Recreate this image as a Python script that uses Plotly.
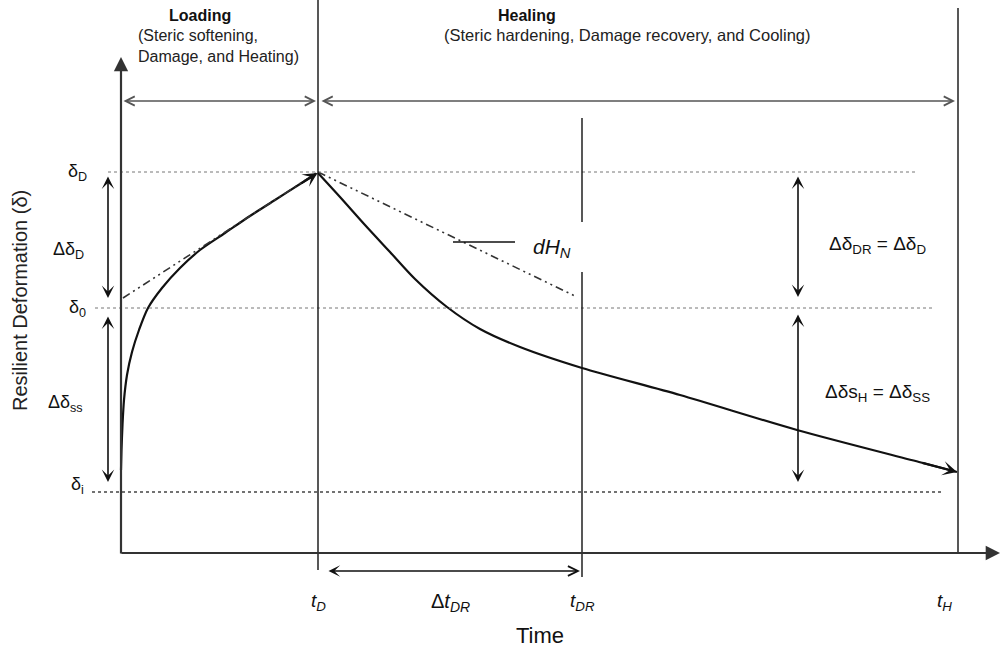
import plotly.graph_objects as go

# ---------------- data (schematic units) ----------------
time_marks = [1.97, 4.61, 8.37]          # t_D, t_DR, t_H
time_labels = ["<i>t<sub>D</sub></i>", "<i>t<sub>DR</sub></i>", "<i>t<sub>H</sub></i>"]
delta_levels = [0.61, 2.45, 3.81]        # delta_i, delta_0, delta_D
delta_labels = ["δ<sub>i</sub>", "δ<sub>0</sub>", "δ<sub>D</sub>"]

loading_t = [0.00, 0.005, 0.015, 0.03, 0.06, 0.11, 0.18, 0.27, 0.41, 0.59, 0.79,
             1.04, 1.29, 1.54, 1.79, 1.95]
loading_d = [0.83, 1.03, 1.28, 1.53, 1.78, 2.01, 2.23, 2.45, 2.65, 2.85, 3.03,
             3.20, 3.37, 3.53, 3.69, 3.79]

healing_t = [1.97, 2.19, 2.44, 2.69, 2.94, 3.26, 3.59, 3.99, 4.61, 5.59, 6.76, 8.0, 8.36]
healing_d = [3.80, 3.56, 3.28, 3.01, 2.74, 2.46, 2.24, 2.06, 1.85, 1.58, 1.23, 0.905, 0.81]

tangent_load_t = [0.02, 1.97]
tangent_load_d = [2.55, 3.81]
tangent_heal_t = [1.97, 4.56]
tangent_heal_d = [3.81, 2.56]

FONT = "Liberation Sans, Arial, sans-serif"
INK = "#111111"
GREY = "#555555"

fig = go.Figure()

# curves
fig.add_trace(go.Scatter(x=loading_t, y=loading_d, mode="lines",
                         line=dict(color=INK, width=2.2, shape="spline", smoothing=0.8),
                         showlegend=False, hoverinfo="skip"))
fig.add_trace(go.Scatter(x=healing_t, y=healing_d, mode="lines",
                         line=dict(color=INK, width=2.2, shape="spline", smoothing=0.8),
                         showlegend=False, hoverinfo="skip"))
fig.add_trace(go.Scatter(x=tangent_load_t, y=tangent_load_d, mode="lines",
                         line=dict(color="#333333", width=1.6, dash="8px,4px,2px,4px,2px,4px"),
                         showlegend=False, hoverinfo="skip"))
fig.add_trace(go.Scatter(x=tangent_heal_t, y=tangent_heal_d, mode="lines",
                         line=dict(color="#333333", width=1.6, dash="8px,4px,2px,4px,2px,4px"),
                         showlegend=False, hoverinfo="skip"))

shapes = []
# horizontal dotted reference levels
dot_extent = [(-0.29, 8.21), (-0.26, 8.11), (-0.13, 7.94)]
for lvl, (x0, x1) in zip(delta_levels, dot_extent):
    shapes.append(dict(type="line", x0=x0, x1=x1, y0=lvl, y1=lvl,
                       line=dict(color="#444444" if lvl == delta_levels[0] else "#777777",
                                 width=1.3 if lvl == delta_levels[0] else 1, dash="dot")))
# vertical time marks
tD, tDR, tH = time_marks
shapes.append(dict(type="line", x0=tD, x1=tD, y0=-0.17, y1=5.53, line=dict(color=INK, width=1.4)))
shapes.append(dict(type="line", x0=tDR, x1=tDR, y0=3.31, y1=4.35, line=dict(color=INK, width=1.4)))
shapes.append(dict(type="line", x0=tDR, x1=tDR, y0=-0.24, y1=2.81, line=dict(color=INK, width=1.4)))
shapes.append(dict(type="line", x0=tH, x1=tH, y0=0, y1=5.45, line=dict(color=INK, width=1.4)))
# dH_N leader
shapes.append(dict(type="line", x0=3.32, x1=3.94, y0=3.11, y1=3.11, line=dict(color=INK, width=1.3)))

anns = []

def arrow(x0, y0, x1, y1, head=3, start=None, size=1.0, width=1.4, color=INK):
    d = dict(x=x1, y=y1, ax=x0, ay=y0, xref="x", yref="y", axref="x", ayref="y",
             text="", showarrow=True, arrowhead=head, arrowsize=size,
             arrowwidth=width, arrowcolor=color)
    if start is not None:
        d["arrowside"] = "end+start"
        d["startarrowhead"] = start
        d["startarrowsize"] = size
    anns.append(d)

# axes
arrow(0, -0.02, 0, 4.96, head=2, size=1.3, width=2.2, color="#333333")
arrow(-0.01, 0, 8.79, 0, head=2, size=1.3, width=2.2, color="#333333")

# top span arrows
arrow(0.01, 4.52, 1.95, 4.52, head=5, start=5, size=1.4, width=1.3, color=GREY)
arrow(1.99, 4.52, 8.34, 4.52, head=5, start=5, size=1.4, width=1.3, color=GREY)

# left vertical double arrows
arrow(-0.13, 3.78, -0.13, 2.55, head=3, start=3, size=1.3, width=1.6)
arrow(-0.13, 2.38, -0.13, 0.71, head=3, start=3, size=1.3, width=1.6)
# right vertical double arrows
arrow(6.77, 3.78, 6.77, 2.56, head=3, start=3, size=1.3, width=1.6)
arrow(6.77, 2.40, 6.77, 0.71, head=3, start=3, size=1.3, width=1.6)
# bottom delta t arrow
arrow(2.06, -0.18, 4.59, -0.18, head=5, start=3, size=1.3, width=1.5)

# curve arrowheads
arrow(loading_t[-2], loading_d[-2], 1.965, 3.80, head=3, size=1.1, width=2.2)
arrow(healing_t[-2], healing_d[-2], healing_t[-1], healing_d[-1], head=3, size=1.1, width=2.2)

def text(x, y, s, size=15, xanchor="center", bold=False, align="center", color=INK):
    anns.append(dict(x=x, y=y, xref="x", yref="y", text=("<b>%s</b>" % s) if bold else s,
                     showarrow=False, xanchor=xanchor, yanchor="middle", align=align,
                     font=dict(family=FONT, size=size, color=color)))

# headers
text(0.79, 5.38, "Loading", size=16, bold=True)
text(0.15, 5.07, "(Steric softening,<br>Damage, and Heating)", size=16, xanchor="left", align="left",
     color="#222222")
text(4.06, 5.38, "Healing", size=16, bold=True)
text(5.06, 5.18, "(Steric hardening, Damage recovery, and Cooling)", size=16.5, color="#222222")

# delta labels
for lvl, lab in zip(delta_levels, delta_labels):
    text(-0.44, lvl + (0.07 if lab == delta_labels[0] else 0), lab, size=18)
text(-0.53, 3.03, "Δδ<sub>D</sub>", size=18)
text(-0.56, 1.50, "Δδ<sub>ss</sub>", size=18)
text(7.56, 3.08, "Δδ<sub>DR</sub> = Δδ<sub>D</sub>", size=19)
text(7.56, 1.60, "Δδs<sub>H</sub> = Δδ<sub>SS</sub>", size=19)

# time labels
for tm, lab in zip(time_marks, time_labels):
    text(tm - (0.14 if lab == time_labels[2] else 0), -0.49, lab, size=19)
text(3.29, -0.49, "Δ<i>t<sub>DR</sub></i>", size=20)
text(4.31, 3.05, "<i>dH<sub>N</sub></i>", size=21)

# axis titles
text(4.19, -0.82, "Time", size=22)
anns.append(dict(x=-1.01, y=2.52, xref="x", yref="y", text="Resilient Deformation (δ)",
                 showarrow=False, textangle=-90,
                 font=dict(family=FONT, size=20, color="#222222")))

fig.update_layout(
    width=1000, height=649,
    margin=dict(l=0, r=0, t=0, b=0),
    paper_bgcolor="white", plot_bgcolor="white",
    xaxis=dict(range=[-1.21, 8.79], visible=False, fixedrange=True),
    yaxis=dict(range=[-0.96, 5.53], visible=False, fixedrange=True),
    shapes=shapes, annotations=anns, showlegend=False,
)

fig.write_html("out.html")
